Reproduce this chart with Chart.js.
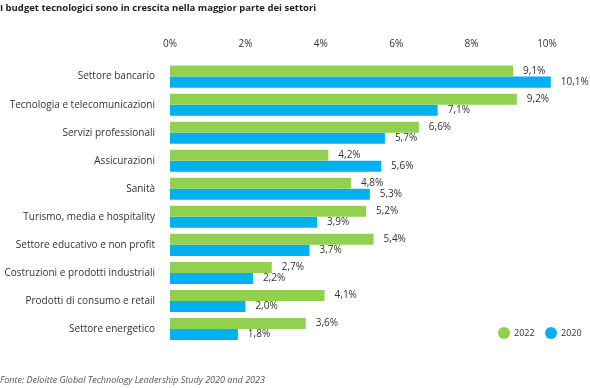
<!DOCTYPE html>
<html>
<head>
<meta charset="utf-8">
<script src="https://cdn.jsdelivr.net/npm/chart.js@4/dist/chart.umd.min.js"></script>
<style>
	body { margin: 0; background: #fff; }
	canvas { display: block; }
</style>
</head>
<body>
<canvas id="budgetChart" width="590" height="388"></canvas>
<script>
'use strict';

const settori = [
	'Settore bancario',
	'Tecnologia e telecomunicazioni',
	'Servizi professionali',
	'Assicurazioni',
	'Sanità',
	'Turismo, media e hospitality',
	'Settore educativo e non profit',
	'Costruzioni e prodotti industriali',
	'Prodotti di consumo e retail',
	'Settore energetico'
];
const valori2022 = [9.1, 9.2, 6.6, 4.2, 4.8, 5.2, 5.4, 2.7, 4.1, 3.6];
const valori2020 = [10.1, 7.1, 5.7, 5.6, 5.3, 3.9, 3.7, 2.2, 2.0, 1.8];
const anni = ['2022', '2020'];
const colori = ['#92d050', '#00b0f0'];

const FONT = '"Open Sans", "Noto Sans", sans-serif';
const TEXT = '#333333';

// etichette con i valori a destra delle barre
const valueLabels = {
	id: 'valueLabels',
	afterDatasetsDraw(chart) {
		const ctx = chart.ctx;
		ctx.save();
		ctx.font = '10px ' + FONT;
		ctx.fillStyle = TEXT;
		ctx.textAlign = 'left';
		ctx.textBaseline = 'middle';
		chart.data.datasets.forEach((ds, i) => {
			chart.getDatasetMeta(i).data.forEach((bar, j) => {
				const txt = ds.data[j].toFixed(1).replace('.', ',') + '%';
				ctx.fillText(txt, bar.x + 10, bar.y);
			});
		});
		ctx.restore();
	}
};

// legenda e fonte disegnate a mano
const extras = {
	id: 'extras',
	afterDraw(chart) {
		const ctx = chart.ctx;
		ctx.save();
		ctx.textBaseline = 'middle';
		ctx.textAlign = 'left';
		ctx.font = '9px ' + FONT;
		const ly = 333;
		const pos = [504, 551];
		anni.forEach((a, i) => {
			ctx.fillStyle = colori[i];
			ctx.beginPath();
			ctx.arc(pos[i], ly, 6, 0, Math.PI * 2);
			ctx.fill();
			ctx.fillStyle = TEXT;
			ctx.fillText(a, pos[i] + 10, ly);
		});
		ctx.font = 'italic 9px ' + FONT;
		ctx.fillStyle = '#555555';
		ctx.fillText('Fonte: Deloitte Global Technology Leadership Study 2020 and 2023', 0, 380);
		ctx.restore();
	}
};

const config = {
	type: 'bar',
	data: {
		labels: settori,
		datasets: [
			{
				label: anni[0],
				data: valori2022,
				backgroundColor: colori[0],
				clip: false
			},
			{
				label: anni[1],
				data: valori2020,
				backgroundColor: colori[1],
				clip: false
			}
		]
	},
	options: {
		indexAxis: 'y',
		responsive: false,
		animation: false,
		layout: {
			padding: { left: 0, right: 43, top: 0, bottom: 45 }
		},
		datasets: {
			bar: {
				categoryPercentage: 22 / 28,
				barPercentage: 1
			}
		},
		scales: {
			x: {
				position: 'top',
				min: 0,
				max: 10,
				grid: { display: false, drawTicks: false },
				border: { display: false },
				ticks: {
					stepSize: 2,
					padding: 12,
					color: TEXT,
					font: { family: FONT, size: 10 },
					callback: (v) => v + '%'
				},
				afterFit: (scale) => { scale.height = 38.3; }
			},
			y: {
				grid: { display: false, drawTicks: false },
				border: { display: false },
				ticks: {
					padding: 15,
					color: TEXT,
					font: { family: FONT, size: 10 }
				},
				afterFit: (scale) => { scale.width = 170; }
			}
		},
		plugins: {
			legend: { display: false },
			tooltip: { enabled: false },
			title: {
				display: true,
				text: 'I budget tecnologici sono in crescita nella maggior parte dei settori',
				align: 'start',
				color: '#222222',
				font: { family: FONT, size: 9.5, weight: 'bold' },
				padding: { top: 2.3, bottom: 10.6 }
			}
		}
	},
	plugins: [valueLabels, extras]
};

window.addEventListener('load', function() {
	const ctx = document.getElementById('budgetChart').getContext('2d');
	new Chart(ctx, config);
}, false);
</script>
</body>
</html>
